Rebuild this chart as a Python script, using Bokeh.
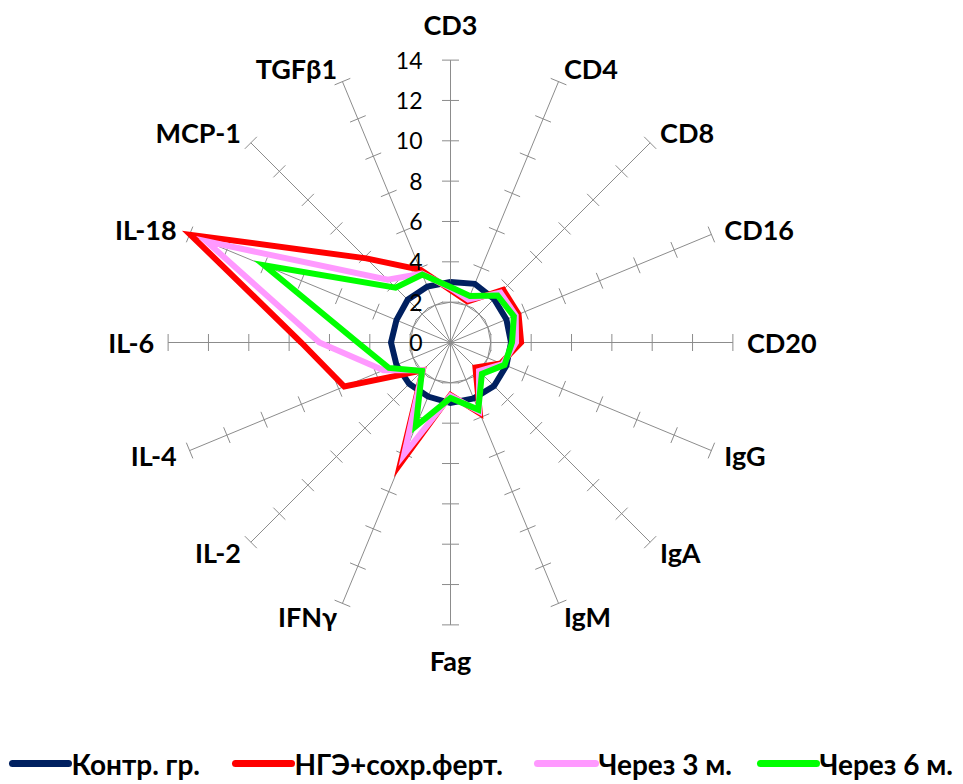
import numpy as np
from bokeh.plotting import figure
from bokeh.core.properties import value
from bokeh.embed import file_html
from bokeh.resources import INLINE

# ---------------- data ----------------
categories = ["CD3", "CD4", "CD8", "CD16", "CD20", "IgG", "IgA", "IgM", "Fag",
              "IFNγ", "IL-2", "IL-4", "IL-6", "IL-18", "MCP-1", "TGFβ1"]
control = [3.0, 3.15, 3.05, 3.0, 3.0, 3.0, 3.05, 3.0, 3.0, 2.9, 2.9, 2.9, 2.95, 2.9, 3.0, 3.0]
ngeh = [2.6, 2.2, 3.7, 3.65, 3.5, 2.7, 1.75, 3.8, 2.6, 6.5, 1.95, 5.7, 7.4, 13.95, 5.9, 3.9]
after3m = [2.7, 2.3, 3.5, 3.5, 3.25, 2.8, 2.0, 3.7, 2.65, 6.0, 1.95, 3.6, 6.5, 13.1, 4.4, 3.7]
after6m = [2.75, 2.5, 3.3, 3.4, 3.05, 2.9, 2.2, 3.6, 2.75, 4.5, 2.0, 3.3, 4.6, 10.0, 3.85, 3.65]
series_names = ["Контр. гр.", "НГЭ+сохр.ферт.", "Через 3 м.", "Через 6 м."]
series_colors = ["#002060", "#FF0000", "#FF99FF", "#00FF00"]
tick_values = [0, 2, 4, 6, 8, 10, 12, 14]
tick_labels = [str(v) for v in tick_values]
r_max = 14
grid_ring = 2

# ---------------- layout ----------------
W, H = 963, 784
PX = 20.17            # pixels per unit
CX, CY = 450, 342     # centre in figure pixels
MARGIN = 0

def px2x(page_x):
    return (page_x - MARGIN - CX) / PX

def py2y(page_y):
    return (CY - (page_y - MARGIN)) / PX

p = figure(width=W, height=H,
           x_range=(-CX / PX, (W - CX) / PX),
           y_range=(-(H - CY) / PX, CY / PX),
           x_axis_type=None, y_axis_type=None,
           output_backend="svg", toolbar_location=None, min_border=0)
p.grid.visible = False
p.outline_line_color = None
p.background_fill_color = "white"

n = len(categories)
theta = np.pi / 2 - 2 * np.pi * np.arange(n) / n
ct, st = np.cos(theta), np.sin(theta)

GRAY = "#8C8C8C"
# spokes
p.segment(x0=np.zeros(n), y0=np.zeros(n), x1=r_max * ct, y1=r_max * st,
          line_color=GRAY, line_width=1)
# ring gridline
ring_x = list(grid_ring * ct) + [grid_ring * ct[0]]
ring_y = list(grid_ring * st) + [grid_ring * st[0]]
p.line(ring_x, ring_y, line_color=GRAY, line_width=1)
# tick marks on each spoke
hl = 8.5 / PX
tx0, ty0, tx1, ty1 = [], [], [], []
for i in range(n):
    for t in tick_values[1:]:
        mx, my = t * ct[i], t * st[i]
        dx, dy = -st[i] * hl, ct[i] * hl
        tx0.append(mx - dx); ty0.append(my - dy)
        tx1.append(mx + dx); ty1.append(my + dy)
p.segment(x0=tx0, y0=ty0, x1=tx1, y1=ty1, line_color=GRAY, line_width=1)

# series
for vals, col in zip([control, ngeh, after3m, after6m], series_colors):
    v = np.array(vals + [vals[0]])
    tt = np.append(theta, theta[0])
    p.line(v * np.cos(tt), v * np.sin(tt), line_color=col, line_width=6,
           line_join="miter")

# category labels
FONT = "Lato"
side_off = 14 / PX
vert_off = 36 / PX
groups = {"left": ([], [], []), "right": ([], [], []), "center": ([], [], [])}
for i, lab in enumerate(categories):
    c, s = ct[i], st[i]
    if abs(c) < 1e-6:
        x, y = 0.0, (r_max + vert_off) * np.sign(s)
        g = "center"
    else:
        x, y = (r_max + side_off) * c, (r_max + side_off) * s
        g = "left" if c > 0 else "right"
    groups[g][0].append(x); groups[g][1].append(y); groups[g][2].append(lab)
for g, (xs, ys, ls) in groups.items():
    if xs:
        p.text(x=xs, y=ys, text=ls, text_align=g, text_baseline="middle",
               text_font=value(FONT), text_font_style="bold",
               text_font_size="27px", text_color="black")

# radial tick labels
p.text(x=[px2x(422)] * len(tick_values), y=tick_values, text=tick_labels,
       text_align="right", text_baseline="middle", text_font=value(FONT),
       text_font_size="23px", text_color="black")

# legend
leg_y = py2y(763)
leg_line_x = [(12, 68), (235, 291), (537, 595), (760, 816)]
leg_text_x = [71, 294, 598, 819]
for (a, b), tx, name, col in zip(leg_line_x, leg_text_x, series_names, series_colors):
    p.segment(x0=[px2x(a)], y0=[leg_y], x1=[px2x(b)], y1=[leg_y],
              line_color=col, line_width=7, line_cap="round")
    p.text(x=[px2x(tx)], y=[leg_y], text=[name], text_align="left",
           text_baseline="middle", text_font=value(FONT), text_font_style="bold",
           text_font_size="28px", text_color="black")

open("out.html", "w").write(file_html(p, INLINE))
